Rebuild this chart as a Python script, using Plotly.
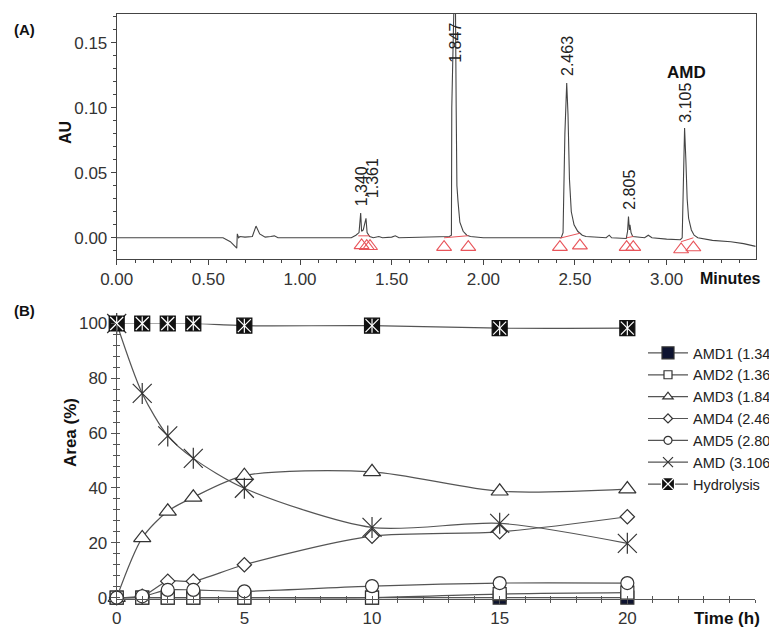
import plotly.graph_objects as go

# ---------------- Panel A: chromatogram ----------------
rt_min = [0.00, 0.58, 0.62, 0.655, 0.658, 0.665, 0.672, 0.70, 0.74, 0.76,
          0.78, 0.81, 0.84, 0.86, 0.88, 1.28, 1.305, 1.322, 1.331, 1.336,
          1.345, 1.355, 1.360, 1.366, 1.38, 1.40, 1.43, 1.45, 1.50, 1.52,
          1.54, 1.815, 1.826, 1.828, 1.834, 1.846, 1.852, 1.856, 1.862, 1.872,
          1.89, 1.91, 1.93, 2.00, 2.425, 2.435, 2.445, 2.455, 2.462, 2.47,
          2.48, 2.495, 2.515, 2.54, 2.56, 2.67, 2.687, 2.70, 2.78, 2.787,
          2.792, 2.797, 2.80, 2.806, 2.815, 2.88, 2.90, 2.92, 3.00, 3.075,
          3.085, 3.092, 3.098, 3.105, 3.112, 3.12, 3.135, 3.15, 3.17, 3.25,
          3.35, 3.42, 3.486]
au = [0.0, 0.0, -0.003, -0.008, 0.003, 0.0, 0.001, 0.0005, 0.001, 0.009,
      0.003, 0.0005, 0.001, 0.0015, 0.0, 0.0, 0.002, 0.004, 0.019, 0.005,
      0.006, 0.012, 0.015, 0.004, 0.001, 0.0, 0.001, 0.0, 0.0005, 0.0015,
      0.0, 0.001, 0.002, 0.10, 0.22, 0.22, 0.10, 0.04, 0.028, 0.012,
      0.005, 0.002, 0.001, 0.0, 0.0, 0.004, 0.08, 0.119, 0.095, 0.045,
      0.02, 0.01, 0.005, 0.002, 0.001, 0.0, 0.002, 0.0, -0.0005, 0.005,
      0.0164, 0.006, 0.01, 0.004, 0.001, 0.0, 0.002, 0.0, -0.001, -0.0015,
      0.0, 0.06, 0.0844, 0.06, 0.03, 0.015, 0.006, 0.002, 0.0, -0.002,
      -0.003, -0.0045, -0.0066]

peak_labels = ["1.340", "1.361", "1.847", "2.463", "2.805", "3.105"]
peak_label_x = [1.337, 1.395, 1.851, 2.458, 2.800, 3.106]
peak_label_y = [0.0225, 0.0292, 0.133, 0.123, 0.020, 0.087]

int_start = [1.318, 1.786, 2.418, 2.782, 3.079]
int_end = [1.382, 1.918, 2.527, 2.818, 3.146]
int_y0 = [0.0015, 0.0, -0.0003, 0.0, -0.003]
int_y1 = [0.0015, 0.0016, 0.0035, 0.001, 0.0]
tri_t = [1.336, 1.364, 1.382, 1.786, 1.918, 2.418, 2.527, 2.782, 2.818, 3.079, 3.146]
tri_y = [-0.0058, -0.0065, -0.0065, -0.0072, -0.0072, -0.0072, -0.006,
         -0.0072, -0.0072, -0.009, -0.0075]

# ---------------- Panel B: kinetics ----------------
time_h = [0, 1, 2, 3, 5, 10, 15, 20]
amd1 = [0, 0, 0, 0, 0, 0, 0, 0]
amd2 = [0, 0, 0, 0, 0, 0, 1.3, 1.8]
amd3 = [0, 21.8, 31.5, 36.6, 44.5, 45.9, 38.8, 39.6]
amd4 = [0, 0.5, 6, 6, 12, 22.4, 24, 29.5]
amd5 = [0, 0.5, 2.8, 2.8, 2.3, 4.2, 5.3, 5.3]
amd = [100, 74.5, 59.0, 50.8, 39.9, 25.6, 27.1, 19.8]
hydrolysis = [100, 100, 100, 100, 99.2, 99.2, 98.3, 98.3]
series_names = ["AMD1 (1.340)", "AMD2 (1.361)", "AMD3 (1.847)", "AMD4 (2.463)",
                "AMD5 (2.805)", "AMD (3.106)", "Hydrolysis"]

W, H = 769, 628
def px(x):
    return x / W
def py(y):
    return 1 - y / H

FONT = "Liberation Sans, Arial, sans-serif"
DARK = "#333333"
LINE = "#555555"
RED = "#e8545a"

fig = go.Figure()

# Chromatogram
fig.add_trace(go.Scatter(x=rt_min, y=au, mode="lines", xaxis="x", yaxis="y",
                         line=dict(color="#444444", width=1.1), showlegend=False,
                         hoverinfo="skip"))
# integration baselines
ix, iy = [], []
for s, e, a, b in zip(int_start, int_end, int_y0, int_y1):
    ix += [s, e, None]
    iy += [a, b, None]
fig.add_trace(go.Scatter(x=ix, y=iy, mode="lines", xaxis="x", yaxis="y",
                         line=dict(color=RED, width=1), showlegend=False))
fig.add_trace(go.Scatter(x=tri_t, y=tri_y, mode="markers", xaxis="x", yaxis="y",
                         marker=dict(symbol="triangle-up-open", size=13,
                                     color=RED, line=dict(width=1.1, color=RED)),
                         showlegend=False, cliponaxis=False))

# Kinetics
def add_series(y, name, symbol, size, fill, lsize, mlc=DARK, lsymbol=None, lmlc=None):
    fig.add_trace(go.Scatter(
        x=time_h, y=y, name=name, mode="lines+markers", xaxis="x2", yaxis="y2",
        line=dict(color=LINE, width=1.2, shape="spline", smoothing=0.8),
        marker=dict(symbol=symbol, size=size, color=fill,
                    line=dict(color=mlc, width=1.2)),
        showlegend=False, cliponaxis=False))
    # legend entry with the smaller legend glyph
    fig.add_trace(go.Scatter(
        x=[None], y=[None], name=name, mode="lines+markers", xaxis="x2", yaxis="y2",
        line=dict(color=LINE, width=1.2),
        marker=dict(symbol=lsymbol or symbol, size=lsize, color=fill,
                    line=dict(color=lmlc or mlc, width=1.2)),
        showlegend=True))

def add_overlay(y, symbol, size, col):
    fig.add_trace(go.Scatter(x=time_h, y=y, mode="markers", xaxis="x2", yaxis="y2",
                             marker=dict(symbol=symbol, size=size, color=col,
                                         line=dict(color=col, width=1.2)),
                             showlegend=False, cliponaxis=False, hoverinfo="skip"))

add_series(amd1, series_names[0], "square", 13, "#0d1330", 12)
add_series(amd2, series_names[1], "square", 13, "white", 8)
add_series(amd3, series_names[2], "triangle-up", 15, "white", 9)
add_series(amd4, series_names[3], "diamond", 11, "white", 7)
add_series(amd5, series_names[4], "circle", 13, "white", 8)
add_series(amd, series_names[5], "x-thin-open", 19, DARK, 10)
add_overlay(amd, "line-ns-open", 15, DARK)
add_series(hydrolysis, series_names[6], "square", 15, "#111111", 13, mlc="#111111",
           lsymbol="square-x", lmlc="white")
add_overlay(hydrolysis, "x-thin-open", 13, "white")
add_overlay(hydrolysis, "line-ns-open", 10, "white")

# dummy trace for overlay axes (inner half of crossing ticks)
fig.add_trace(go.Scatter(x=[None], y=[None], xaxis="x3", yaxis="y3",
                         showlegend=False, hoverinfo="skip"))

tickfont = dict(family=FONT, size=17, color=DARK)
domA_x = [px(116.7), px(755.7)]
domA_y = [py(259), py(14)]
domB_x = [px(116.7), px(755)]
domB_y = [py(599), py(323.5)]

fig.update_layout(
    width=W, height=H,
    margin=dict(l=0, r=0, t=0, b=0, autoexpand=False),
    paper_bgcolor="white", plot_bgcolor="rgba(0,0,0,0)",
    font=dict(family=FONT, color=DARK),
    xaxis=dict(domain=domA_x, anchor="y", range=[0, 3.486], dtick=0.5, tick0=0,
               tickformat=".2f", showgrid=False, zeroline=False, showline=True,
               linecolor="#444", linewidth=1, mirror=True, ticks="outside",
               ticklen=5, tickcolor="#444", tickfont=tickfont,
               minor=dict(dtick=0.1, tick0=0, ticks="outside", ticklen=3, tickcolor="#444")),
    yaxis=dict(domain=domA_y, anchor="x", range=[-0.0163, 0.172], dtick=0.05, tick0=0,
               tickformat=".2f", showgrid=False, zeroline=False, showline=True,
               linecolor="#444", linewidth=1, mirror=True, ticks="outside",
               ticklen=5, tickcolor="#444", tickfont=tickfont,
               minor=dict(dtick=0.01, tick0=0, ticks="outside", ticklen=3, tickcolor="#444")),
    xaxis2=dict(domain=domB_x, anchor="y2", range=[0, 25],
                tickmode="array", tickvals=[0, 5, 10, 15, 20],
                showgrid=False, zeroline=False, showline=True, linecolor="#555",
                linewidth=1, ticks="outside", ticklen=4, tickcolor="#555",
                tickfont=tickfont,
                minor=dict(tickmode="linear", tick0=0, dtick=1, ticks="outside",
                           ticklen=3, tickcolor="#555")),
    yaxis2=dict(domain=domB_y, anchor="x2", range=[-0.5, 100], dtick=20, tick0=0,
                showgrid=False, zeroline=False, showline=True, linecolor="#555",
                linewidth=1, ticks="outside", ticklen=5, tickcolor="#555",
                tickfont=tickfont,
                minor=dict(tickmode="linear", tick0=0, dtick=4, ticks="outside",
                           ticklen=3, tickcolor="#555")),
    xaxis3=dict(overlaying="x2", anchor="y3", range=[0, 25], tickmode="array",
                tickvals=[0, 5, 10, 15, 20], showticklabels=False, showgrid=False,
                zeroline=False, showline=False, ticks="inside", ticklen=3,
                tickcolor="#555",
                minor=dict(tickmode="linear", tick0=0, dtick=1, ticks="inside",
                           ticklen=3, tickcolor="#555")),
    yaxis3=dict(overlaying="y2", anchor="x3", range=[-0.5, 100], dtick=20, tick0=0,
                showticklabels=False, showgrid=False, zeroline=False, showline=False,
                ticks="inside", ticklen=3, tickcolor="#555",
                minor=dict(tickmode="linear", tick0=0, dtick=4, ticks="inside",
                           ticklen=3, tickcolor="#555")),
    legend=dict(x=px(643), y=py(337), xanchor="left", yanchor="top",
                bgcolor="rgba(0,0,0,0)", borderwidth=0, itemwidth=40,
                font=dict(family=FONT, size=14.5, color="#222"),
                tracegroupgap=0, itemclick=False),
)

ann = []
for t, xv, yv in zip(peak_labels, peak_label_x, peak_label_y):
    ann.append(dict(x=xv, y=yv, xref="x", yref="y", text=t, textangle=-90,
                    showarrow=False, xanchor="center", yanchor="bottom",
                    font=dict(family=FONT, size=16, color="#222")))
ann.append(dict(x=3.11, y=0.127, xref="x", yref="y", text="<b>AMD</b>",
                showarrow=False, xanchor="center", yanchor="middle",
                font=dict(family=FONT, size=17, color="#111")))
def pann(x, y, text, size, angle=0, xanchor="center"):
    ann.append(dict(x=px(x), y=py(y), xref="paper", yref="paper", text=text,
                    textangle=angle, showarrow=False, xanchor=xanchor,
                    yanchor="middle", font=dict(family=FONT, size=size, color="#111")))
pann(24, 30, "<b>(A)</b>", 15)
pann(24, 310, "<b>(B)</b>", 15)
pann(65, 133, "<b>AU</b>", 16, -90)
pann(70, 433, "<b>Area (%)</b>", 17, -90)
pann(730, 278, "<b>Minutes</b>", 16)
pann(727, 618, "<b>Time (h)</b>", 17)
fig.update_layout(annotations=ann)

fig.write_html("out.html", config={"displayModeBar": False},
               post_script="document.body.style.margin='0';document.body.style.padding='0';document.body.style.overflow='hidden';")
